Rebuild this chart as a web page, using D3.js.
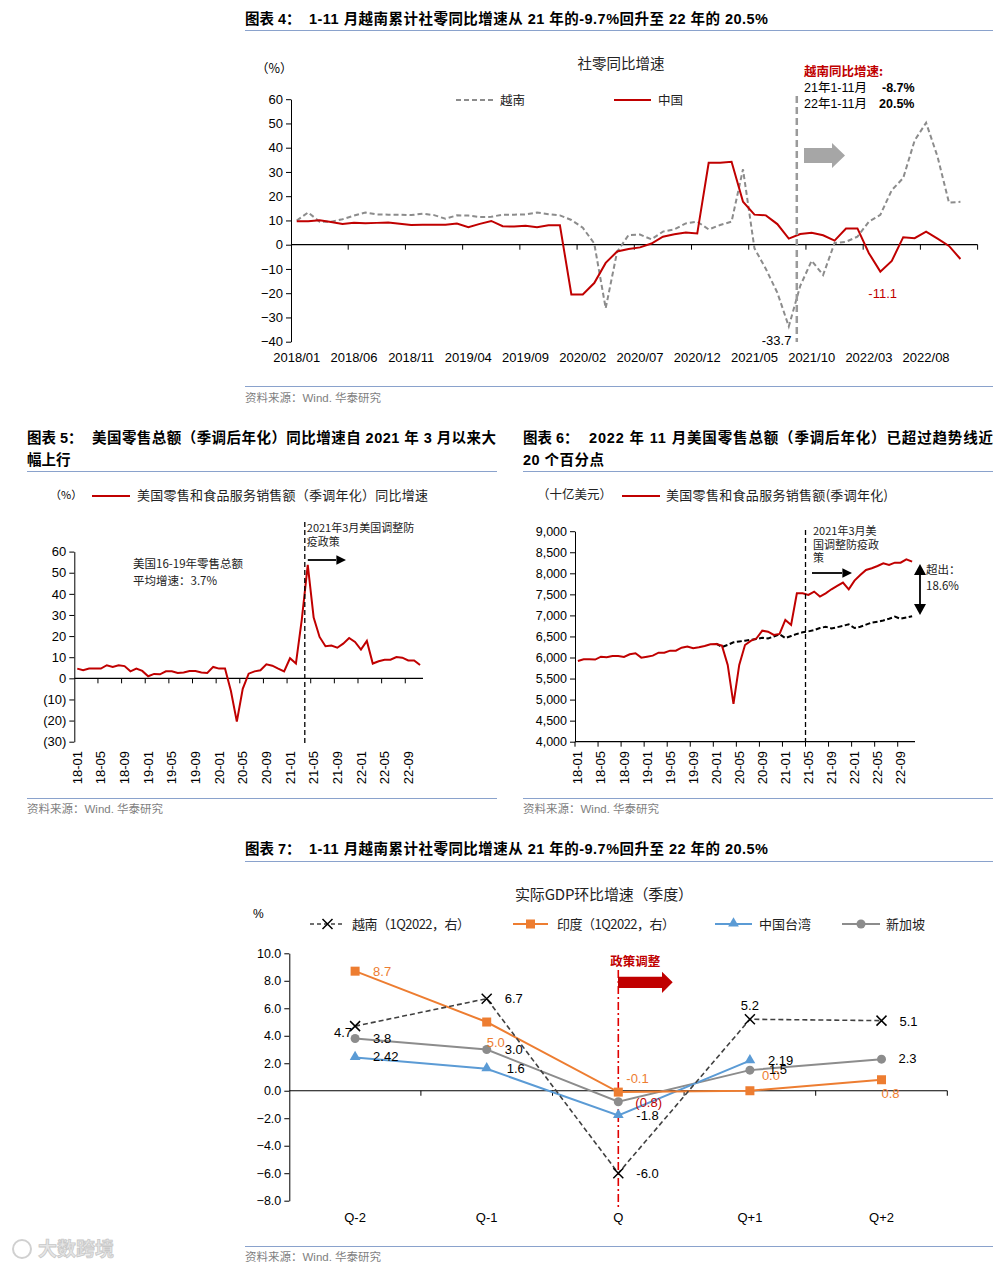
<!DOCTYPE html>
<html>
<head>
<meta charset="utf-8">
<script src="https://cdn.jsdelivr.net/npm/d3@7"></script>
<style>
  body { margin: 0; background: #fff; }
  svg { display: block; }
</style>
</head>
<body>
<svg id="c" width="1006" height="1268"></svg>
<script>
// ---------- data ----------
// 图表4: 社零同比增速 (2018/01 - 2022/11)
var months4 = d3.range(60).map(i => (2018 + Math.floor(i / 12)) + "/" + String(i % 12 + 1).padStart(2, "0"));
var vietnamRetail = [10.0, 13.3, 9.5, 9.5, 10.5, 12.0, 13.3, 12.5, 12.4, 12.4, 12.2, 12.8,
  12.2, 10.7, 12.1, 12.0, 11.4, 11.5, 12.4, 12.4, 12.5, 13.3, 12.6, 12.1,
  10.2, 7.0, 0.5, -26.2, -2.9, 4.0, 4.2, 2.2, 5.4, 6.3, 8.8, 9.5,
  6.3, 8.1, 9.5, 31.1, -1.5, -10.0, -19.8, -33.7, -17.0, -6.6, -12.5, 0.7,
  1.2, 3.3, 9.5, 12.3, 22.5, 27.5, 43.0, 50.3, 36.3, 17.3, 17.7];
var chinaRetail = [9.7, 9.7, 10.1, 9.4, 8.5, 9.0, 8.8, 9.0, 9.2, 8.6, 8.1, 8.2,
  8.2, 8.2, 8.7, 7.2, 8.6, 9.8, 7.6, 7.5, 7.8, 7.2, 8.0, 8.0,
  -20.5, -20.5, -15.8, -7.5, -2.8, -1.8, -1.1, 0.5, 3.3, 4.3, 5.0, 4.6,
  33.8, 33.8, 34.2, 17.7, 12.4, 12.1, 8.5, 2.5, 4.4, 4.9, 3.9, 1.7,
  6.7, 6.7, -3.5, -11.1, -6.7, 3.1, 2.7, 5.4, 2.5, -0.5, -5.9];

// 图表5/6: 美国零售 (18-01 - 22-11)
var monthsUS = d3.range(59).map(i => String(18 + Math.floor(i / 12)) + "-" + String(i % 12 + 1).padStart(2, "0"));
var usRetailYoY = [4.6, 3.8, 4.6, 4.6, 4.6, 6.2, 5.4, 6.2, 5.8, 3.3, 4.6, 3.5,
  1.0, 2.1, 1.9, 3.3, 3.3, 2.5, 2.8, 3.5, 3.5, 2.8, 2.5, 5.4,
  4.6, 4.6, -6.0, -20.5, -5.0, 2.2, 3.3, 3.8, 6.6, 6.0, 4.6, 3.3,
  9.5, 7.0, 28.0, 53.7, 28.8, 19.6, 15.2, 15.5, 14.5, 16.4, 19.1, 17.2,
  13.6, 17.7, 7.0, 8.1, 8.8, 8.8, 10.1, 9.8, 8.5, 8.5, 6.3];
var usRetailSales = [5918, 5957, 5957, 5950, 6020, 6005, 6036, 6036, 6012, 6076, 6100, 5997,
  6020, 6044, 6115, 6115, 6163, 6163, 6234, 6258, 6218, 6242, 6274, 6313,
  6321, 6282, 5823, 4896, 5823, 6297, 6393, 6456, 6638, 6614, 6535, 6559,
  6891, 6773, 7525, 7525, 7485, 7565, 7446, 7525, 7620, 7700, 7778, 7620,
  7826, 7960, 8079, 8119, 8174, 8238, 8198, 8253, 8253, 8333, 8277];
var usTrendStart = "20-01";
var usTrend = [6330, 6250, 6300, 6360, 6380, 6400, 6420, 6440, 6470, 6450, 6500, 6550,
  6460, 6510, 6560, 6600, 6620, 6650, 6700, 6730, 6690, 6720, 6750, 6790,
  6700, 6730, 6780, 6830, 6850, 6880, 6920, 6970, 6920, 6950, 6980];

// 图表7: 实际GDP环比增速
var quarters = ["Q-2", "Q-1", "Q", "Q+1", "Q+2"];
var gdpVietnam = [4.7, 6.7, -6.0, 5.2, 5.1];
var gdpIndia = [8.7, 5.0, -0.1, 0.0, 0.8];
var gdpTaiwan = [2.42, 1.6, -1.8, 2.19, null];
var gdpSingapore = [3.8, 3.0, -0.8, 1.5, 2.3];
var lblVietnam = ["4.7", "6.7", "-6.0", "5.2", "5.1"];
var lblIndia = ["8.7", "5.0", "-0.1", "0.0", "0.8"];
var lblTaiwan = ["2.42", "1.6", "-1.8", "2.19", null];
var lblSingapore = ["3.8", "3.0", "(0.8)", "1.5", "2.3"];

// ---------- setup ----------
var FONT = "'Liberation Sans', 'Noto Sans CJK SC', sans-serif";
var CJK = "'Noto Sans CJK SC', 'Liberation Sans', sans-serif";
var RED = "#c00000";
var SEP = "#8aa2cc";
var svg = d3.select("#c");
svg.append("rect").attr("width", 1006).attr("height", 1268).attr("fill", "#fff");

function txt(x, y, s, o) {
  o = o || {};
  var t = svg.append("text").attr("x", x).attr("y", y).text(s)
    .attr("font-size", o.size || 12)
    .attr("fill", o.fill || "#000")
    .attr("text-anchor", o.anchor || "start")
    .attr("font-family", o.family || FONT)
    .attr("font-weight", o.weight || "normal");
  if (o.len) t.attr("textLength", o.len).attr("lengthAdjust", "spacing");
  return t;
}
function hline(x1, x2, y, col, w) {
  svg.append("line").attr("x1", x1).attr("x2", x2).attr("y1", y).attr("y2", y)
    .attr("stroke", col).attr("stroke-width", w || 1);
}
function styleAxis(g, size) {
  g.attr("font-family", FONT).attr("font-size", size || 13);
  g.selectAll("path,line").attr("stroke", "#000");
  g.selectAll("text").attr("fill", "#000");
}
function rotLabels(scale, labels, every, y0) {
  labels.forEach(function (d, i) {
    if (i % every) return;
    var cx = scale(d) + scale.bandwidth() / 2;
    svg.append("text").text(d)
      .attr("transform", "translate(" + cx + "," + y0 + ") rotate(-90)")
      .attr("dy", "0.35em").attr("text-anchor", "end")
      .attr("font-family", FONT).attr("font-size", 13);
  });
}
function arrowHead(x, y, size) {
  svg.append("path").attr("d", "M" + x + "," + y + "l" + (-size * 1.6) + "," + (-size * 0.8) + "l0," + (size * 1.6) + "z").attr("fill", "#000");
}

// ---------- titles & frames ----------
txt(245, 24, "图表 4：", { size: 14.5, weight: "bold" });
txt(309, 24, "1-11 月越南累计社零同比增速从 21 年的-9.7%回升至 22 年的 20.5%", { size: 14.5, weight: "bold", len: 459 });
hline(245, 993, 30.5, SEP, 1.2);
hline(245, 993, 386.5, SEP, 1);
txt(245, 402, "资料来源：Wind. 华泰研究", { size: 11.5, fill: "#7f7f7f" });

txt(27, 443, "图表 5：", { size: 14.5, weight: "bold" });
txt(92, 443, "美国零售总额（季调后年化）同比增速自 2021 年 3 月以来大", { size: 14.5, weight: "bold", len: 404 });
txt(27, 465, "幅上行", { size: 14.5, weight: "bold" });
hline(27, 497, 471.5, SEP, 1.2);
hline(27, 497, 798.5, SEP, 1);
txt(27, 813, "资料来源：Wind. 华泰研究", { size: 11.5, fill: "#7f7f7f" });

txt(523, 443, "图表 6：", { size: 14.5, weight: "bold" });
txt(589, 443, "2022 年 11 月美国零售总额（季调后年化）已超过趋势线近", { size: 14.5, weight: "bold", len: 404 });
txt(523, 465, "20 个百分点", { size: 14.5, weight: "bold", len: 81 });
hline(523, 993, 471.5, SEP, 1.2);
hline(523, 993, 798.5, SEP, 1);
txt(523, 813, "资料来源：Wind. 华泰研究", { size: 11.5, fill: "#7f7f7f" });

txt(245, 854, "图表 7：", { size: 14.5, weight: "bold" });
txt(309, 854, "1-11 月越南累计社零同比增速从 21 年的-9.7%回升至 22 年的 20.5%", { size: 14.5, weight: "bold", len: 459 });
hline(245, 993, 861.5, SEP, 1.2);
hline(245, 993, 1246.5, SEP, 1);
txt(245, 1261, "资料来源：Wind. 华泰研究", { size: 11.5, fill: "#7f7f7f" });

// ---------- 图表4 ----------
var x4 = d3.scaleBand().domain(months4).range([291, 977.6]);
var s4 = x4.step();
var y4 = d3.scaleLinear().domain([-40, 60]).range([341.7, 99.2]);
function cx4(i) { return x4(months4[i]) + s4 / 2; }

var ay4 = svg.append("g").attr("transform", "translate(291,0)")
  .call(d3.axisLeft(y4).tickValues(d3.range(-40, 61, 10)).tickSize(5).tickSizeOuter(0).tickPadding(3));
styleAxis(ay4, 13);
hline(291, 977.6, y4(0), "#000", 1.2);
for (var k = 5; k <= 60; k += 5) {
  var tx = x4.range()[0] + k * s4;
  svg.append("line").attr("x1", tx).attr("x2", tx).attr("y1", y4(0)).attr("y2", y4(0) + 5).attr("stroke", "#000");
}
months4.forEach(function (m, i) {
  if (i % 5 || i > 55) return;
  txt(cx4(i), 362, m, { size: 13, anchor: "middle" });
});

var line4 = d3.line().x((d, i) => cx4(i)).y(d => y4(d));
svg.append("path").datum(vietnamRetail).attr("d", line4).attr("fill", "none")
  .attr("stroke", "#8c8c8c").attr("stroke-width", 2).attr("stroke-dasharray", "5,3");
svg.append("path").datum(chinaRetail).attr("d", line4).attr("fill", "none")
  .attr("stroke", RED).attr("stroke-width", 2);

txt(256, 73, "（%）", { size: 12.5, family: CJK });
txt(621, 69, "社零同比增速", { size: 14.5, anchor: "middle", family: CJK, fill: "#222" });
svg.append("line").attr("x1", 456).attr("x2", 493).attr("y1", 100).attr("y2", 100)
  .attr("stroke", "#8c8c8c").attr("stroke-width", 2).attr("stroke-dasharray", "5,3");
txt(500, 105, "越南", { size: 12.5, family: CJK, fill: "#222" });
hline(614, 651, 100, RED, 2);
txt(658, 105, "中国", { size: 12.5, family: CJK, fill: "#222" });

var vline4 = x4("2021/08") + s4 / 2 + 0.7 * s4;
svg.append("line").attr("x1", vline4).attr("x2", vline4).attr("y1", 96).attr("y2", 342)
  .attr("stroke", "#9a9a9a").attr("stroke-width", 2.5).attr("stroke-dasharray", "7,4");
txt(804, 76, "越南同比增速:", { size: 12.5, fill: RED, weight: "bold", family: CJK });
txt(804, 92, "21年1-11月", { size: 12.5 });
txt(882, 92, "-8.7%", { size: 12.5, weight: "bold" });
txt(804, 108, "22年1-11月", { size: 12.5 });
txt(879, 108, "20.5%", { size: 12.5, weight: "bold" });
svg.append("path").attr("d", "M804,148L832,148L832,143L845,155.5L832,168L832,163L804,163Z").attr("fill", "#a6a6a6");
txt(x4("2021/08") + s4 / 2 - 27, 345, "-33.7", { size: 13 });
txt(x4("2022/04") + s4 / 2 - 12, 298, "-11.1", { size: 13, fill: RED });

// ---------- 图表5 ----------
var x5 = d3.scaleBand().domain(monthsUS).range([74.3, 423]);
var s5 = x5.step();
var y5 = d3.scaleLinear().domain([-30, 60]).range([741.7, 551.6]);
function cx5(i) { return x5(monthsUS[i]) + s5 / 2; }
var ay5 = svg.append("g").attr("transform", "translate(74.3,0)")
  .call(d3.axisLeft(y5).tickValues(d3.range(-30, 61, 10)).tickSize(5).tickSizeOuter(0).tickPadding(3)
    .tickFormat(v => v < 0 ? "(" + (-v) + ")" : v));
styleAxis(ay5, 13);
hline(74.3, 423, y5(0), "#000", 1.2);
for (var k5 = 4; k5 <= 56; k5 += 4) {
  var t5 = x5.range()[0] + k5 * s5;
  svg.append("line").attr("x1", t5).attr("x2", t5).attr("y1", y5(0)).attr("y2", y5(0) + 5).attr("stroke", "#000");
}
rotLabels(x5, monthsUS, 4, 751);
svg.append("path").datum(usRetailYoY)
  .attr("d", d3.line().x((d, i) => cx5(i)).y(d => y5(d)))
  .attr("fill", "none").attr("stroke", RED).attr("stroke-width", 2);

txt(50, 499, "（%）", { size: 11, family: CJK });
hline(92, 130, 496, RED, 2);
txt(137, 500, "美国零售和食品服务销售额（季调年化）同比增速", { size: 13, family: CJK, fill: "#222", len: 291 });
var vline5 = x5("21-03") + s5;
svg.append("line").attr("x1", vline5).attr("x2", vline5).attr("y1", 522).attr("y2", 745)
  .attr("stroke", "#000").attr("stroke-width", 1.3).attr("stroke-dasharray", "5,3");
txt(vline5 + 2, 532, "2021年3月美国调整防", { size: 11, family: CJK, fill: "#222" });
txt(vline5 + 2, 546, "疫政策", { size: 11, family: CJK, fill: "#222" });
hline(vline5 + 3, 336, 560, "#000", 1.8);
arrowHead(346, 560, 6);
txt(133, 568, "美国16-19年零售总额", { size: 11.5, family: CJK, fill: "#222" });
txt(133, 585, "平均增速：3.7%", { size: 11.5, family: CJK, fill: "#222" });

// ---------- 图表6 ----------
var x6 = d3.scaleBand().domain(monthsUS).range([575, 915]);
var s6 = x6.step();
var y6 = d3.scaleLinear().domain([4000, 9000]).range([741.7, 531.2]);
function cx6(i) { return x6(monthsUS[i]) + s6 / 2; }
var ay6 = svg.append("g").attr("transform", "translate(575,0)")
  .call(d3.axisLeft(y6).tickValues(d3.range(4000, 9001, 500)).tickSize(5).tickSizeOuter(0).tickPadding(3)
    .tickFormat(d3.format(",")));
styleAxis(ay6, 12.5);
hline(575, 915, y6(4000), "#000", 1.2);
for (var k6 = 0; k6 <= 56; k6 += 4) {
  var t6 = x6.range()[0] + k6 * s6;
  svg.append("line").attr("x1", t6).attr("x2", t6).attr("y1", y6(4000)).attr("y2", y6(4000) + 5).attr("stroke", "#000");
}
rotLabels(x6, monthsUS, 4, 751);
var trendOff = monthsUS.indexOf(usTrendStart);
svg.append("path").datum(usTrend)
  .attr("d", d3.line().x((d, i) => cx6(i + trendOff)).y(d => y6(d)))
  .attr("fill", "none").attr("stroke", "#000").attr("stroke-width", 2).attr("stroke-dasharray", "5,2.5");
svg.append("path").datum(usRetailSales)
  .attr("d", d3.line().x((d, i) => cx6(i)).y(d => y6(d)))
  .attr("fill", "none").attr("stroke", RED).attr("stroke-width", 2);

txt(537, 499, "（十亿美元）", { size: 12.5, family: CJK, fill: "#222" });
hline(622, 660, 496, RED, 2);
txt(666, 500, "美国零售和食品服务销售额(季调年化)", { size: 13, family: CJK, fill: "#222", len: 222 });
var vline6 = x6("21-05");
svg.append("line").attr("x1", vline6).attr("x2", vline6).attr("y1", 530).attr("y2", 742)
  .attr("stroke", "#000").attr("stroke-width", 1.3).attr("stroke-dasharray", "5,3");
txt(813, 535, "2021年3月美", { size: 11, family: CJK, fill: "#222" });
txt(813, 549, "国调整防疫政", { size: 11, family: CJK, fill: "#222" });
txt(813, 562, "策", { size: 11, family: CJK, fill: "#222" });
hline(812, 842, 573, "#000", 1.8);
arrowHead(852, 573, 6);
svg.append("line").attr("x1", 920).attr("x2", 920).attr("y1", 572).attr("y2", 607).attr("stroke", "#000").attr("stroke-width", 1.8);
svg.append("path").attr("d", "M920,564L914,575L926,575Z").attr("fill", "#000");
svg.append("path").attr("d", "M920,615L914,604L926,604Z").attr("fill", "#000");
txt(926, 574, "超出：", { size: 11.5, family: CJK, fill: "#222" });
txt(926, 590, "18.6%", { size: 11.5, family: CJK, fill: "#222" });

// ---------- 图表7 ----------
var x7 = d3.scaleBand().domain(quarters).range([289.3, 947.3]);
var s7 = x7.step();
var y7 = d3.scaleLinear().domain([-8, 10]).range([1200.7, 953.3]);
function cx7(i) { return x7(quarters[i]) + s7 / 2; }
var ay7 = svg.append("g").attr("transform", "translate(289.3,0)")
  .call(d3.axisLeft(y7).tickValues(d3.range(-8, 10.1, 2)).tickSize(5).tickSizeOuter(0).tickPadding(3)
    .tickFormat(d3.format(".1f")));
styleAxis(ay7, 12.5);
hline(289.3, 947.3, y7(0), "#000", 1.2);
for (var k7 = 1; k7 <= 5; k7++) {
  var t7 = x7.range()[0] + k7 * s7;
  svg.append("line").attr("x1", t7).attr("x2", t7).attr("y1", y7(0)).attr("y2", y7(0) + 5).attr("stroke", "#000");
}
quarters.forEach(function (q, i) { txt(cx7(i), 1222, q, { size: 13, anchor: "middle" }); });

txt(604, 900, "实际GDP环比增速（季度）", { size: 15, anchor: "middle", family: CJK, fill: "#222", len: 178 });
txt(253, 918, "%", { size: 12 });

var qx = cx7(2);
svg.append("line").attr("x1", qx).attr("x2", qx).attr("y1", 970).attr("y2", 1207)
  .attr("stroke", "#e00000").attr("stroke-width", 1.6).attr("stroke-dasharray", "8,3,2,3");
txt(qx - 8, 966, "政策调整", { size: 12.5, family: CJK, fill: RED, weight: "bold" });
svg.append("path").attr("d", "M618,976.7L662,976.7L662,971.7L672.7,982.3L662,993L662,988L618,988Z").attr("fill", RED);

var series7 = [
  { v: gdpVietnam, l: lblVietnam, col: "#404040", dash: "5,3", mark: "x", lc: "#000",
    off: [[-3, 11, "end"], [18, 4], [18, 5], [0, -9, "middle"], [18, 5]] },
  { v: gdpIndia, l: lblIndia, col: "#ed7d31", mark: "s", lc: "#ed7d31",
    off: [[18, 5], [0, 25], [8, -9], [12, -11], [0, 18]] },
  { v: gdpTaiwan, l: lblTaiwan, col: "#5b9bd5", mark: "t", lc: "#000",
    off: [[18, 4], [20, 4], [18, 5], [18, 4]] },
  { v: gdpSingapore, l: lblSingapore, col: "#8c8c8c", mark: "c", lc: "#000",
    off: [[18, 4], [18, 4], [17, 5, "start", RED], [19, 4], [17, 4]] }
];
function marker(g, type, x, y) {
  if (type === "x") {
    g.append("path").attr("d", "M" + (x - 5) + "," + (y - 5) + "L" + (x + 5) + "," + (y + 5) + "M" + (x - 5) + "," + (y + 5) + "L" + (x + 5) + "," + (y - 5))
      .attr("stroke", "#000").attr("stroke-width", 1.5);
  } else if (type === "s") {
    g.append("rect").attr("x", x - 4.5).attr("y", y - 4.5).attr("width", 9).attr("height", 9).attr("fill", "#ed7d31");
  } else if (type === "t") {
    g.append("path").attr("d", d3.symbol(d3.symbolTriangle, 50)()).attr("transform", "translate(" + x + "," + (y - 0.5) + ")").attr("fill", "#5b9bd5");
  } else {
    g.append("circle").attr("cx", x).attr("cy", y).attr("r", 4.5).attr("fill", "#8c8c8c");
  }
}
var line7 = d3.line().defined(d => d != null).x((d, i) => cx7(i)).y(d => y7(d));
// draw order: 新加坡, 中国台湾, 印度, 越南 (越南 on top)
[3, 2, 1, 0].forEach(function (si) {
  var s = series7[si];
  var g = svg.append("g");
  g.append("path").datum(s.v).attr("d", line7).attr("fill", "none")
    .attr("stroke", s.col).attr("stroke-width", si === 0 ? 1.6 : 2)
    .attr("stroke-dasharray", s.dash || null);
  s.v.forEach(function (d, i) { if (d != null) marker(g, s.mark, cx7(i), y7(d)); });
});
series7.forEach(function (s) {
  s.v.forEach(function (d, i) {
    if (d == null || !s.l[i]) return;
    var o = s.off[i];
    txt(cx7(i) + o[0], y7(d) + o[1], s.l[i], { size: 13, anchor: o[2] || "start", fill: o[3] || s.lc });
  });
});

// legend 7
var lg = svg.append("g");
lg.append("line").attr("x1", 310).attr("x2", 345).attr("y1", 924).attr("y2", 924).attr("stroke", "#404040").attr("stroke-width", 1.6).attr("stroke-dasharray", "4,3");
marker(lg, "x", 327.5, 924);
txt(352, 929, "越南（1Q2022，右）", { size: 13, family: CJK, fill: "#222", len: 118 });
lg.append("line").attr("x1", 513).attr("x2", 548).attr("y1", 924).attr("y2", 924).attr("stroke", "#ed7d31").attr("stroke-width", 2);
marker(lg, "s", 530.5, 924);
txt(557, 929, "印度（1Q2022，右）", { size: 13, family: CJK, fill: "#222", len: 118 });
lg.append("line").attr("x1", 715).attr("x2", 752).attr("y1", 924).attr("y2", 924).attr("stroke", "#5b9bd5").attr("stroke-width", 2);
marker(lg, "t", 733.5, 924);
txt(759, 929, "中国台湾", { size: 13, family: CJK, fill: "#222" });
lg.append("line").attr("x1", 842).attr("x2", 880).attr("y1", 924).attr("y2", 924).attr("stroke", "#8c8c8c").attr("stroke-width", 2);
marker(lg, "c", 861, 924);
txt(886, 929, "新加坡", { size: 13, family: CJK, fill: "#222" });

// watermark
svg.append("circle").attr("cx", 22).attr("cy", 1249).attr("r", 9).attr("fill", "none").attr("stroke", "#d0d0d0").attr("stroke-width", 2);
txt(38, 1256, "大数跨境", { size: 19, family: CJK, fill: "#e6e6e6", weight: "bold" })
  .attr("stroke", "#c8c8c8").attr("stroke-width", 0.8);
</script>
</body>
</html>
